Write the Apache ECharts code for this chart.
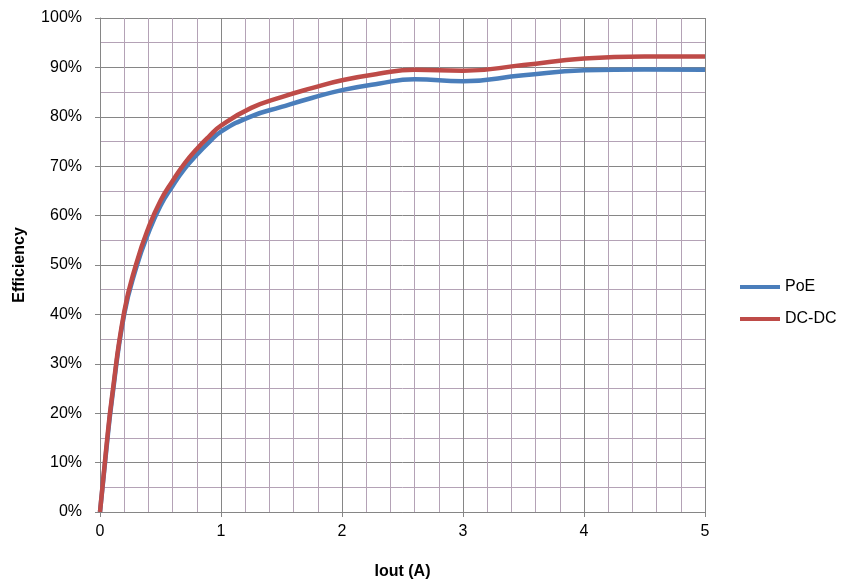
<!DOCTYPE html>
<html>
<head>
<meta charset="utf-8">
<script src="https://cdn.jsdelivr.net/npm/echarts@6/dist/echarts.min.js"></script>
<style>
  html, body { margin: 0; padding: 0; background: #fff; }
  #chart { width: 848px; height: 586px; }
</style>
</head>
<body>
<div id="chart"></div>
<script>
// Iout (A) sample points
var iout = [0, 0.05, 0.1, 0.2, 0.3, 0.4, 0.5, 0.6, 0.7, 0.8, 0.9, 1.0, 1.25, 1.5, 1.75, 2.0, 2.3, 2.6, 3.0, 3.5, 4.0, 4.5, 5.0]
// efficiency in %
var poe = [0, 12, 23, 40, 49.5, 56.5, 62, 66, 69.5, 72.3, 74.8, 77, 80.1, 82.0, 83.8, 85.4, 86.7, 87.6, 87.2, 88.4, 89.4, 89.6, 89.5]
var dcdc = [0, 12.5, 23.5, 40.5, 50.3, 57.5, 63, 67, 70.6, 73.5, 76, 78.2, 81.8, 84.0, 85.8, 87.4, 88.7, 89.5, 89.3, 90.5, 91.8, 92.2, 92.2]
var seriesNames = ['PoE', 'DC-DC']
var seriesColors = ['#4a7ebb', '#be4b48']

var myChart = echarts.init(document.getElementById('chart'))

function pairs (ys) {
  return iout.map(function (x, i) { return [x, ys[i]] })
}

var majorColor = '#868686'
var minorColor = '#b4a2b6'
var font = 'Liberation Sans'

var option = {
  animation: false,
  textStyle: { fontFamily: font },
  grid: { left: 100, right: 143, top: 18, bottom: 74 },
  legend: {
    orient: 'vertical',
    left: 735,
    top: 274,
    itemWidth: 40,
    itemHeight: 4,
    itemGap: 16,
    icon: 'rect',
    textStyle: { fontSize: 16, color: '#000', fontFamily: font },
    data: seriesNames
  },
  xAxis: {
    type: 'value',
    min: 0,
    max: 5,
    interval: 1,
    name: 'Iout (A)',
    nameLocation: 'middle',
    nameGap: 52,
    nameTextStyle: { fontSize: 16, fontWeight: 'bold', color: '#000' },
    axisLine: { show: true, lineStyle: { color: majorColor, width: 1 } },
    axisTick: { show: true, length: 5, lineStyle: { color: majorColor } },
    axisLabel: { fontSize: 16, color: '#000', margin: 12 },
    splitLine: { show: true, lineStyle: { color: majorColor, width: 1 } },
    minorTick: { show: false, splitNumber: 5 },
    minorSplitLine: { show: true, lineStyle: { color: minorColor, width: 1 } }
  },
  yAxis: {
    type: 'value',
    min: 0,
    max: 100,
    interval: 10,
    name: 'Efficiency',
    nameLocation: 'middle',
    nameGap: 72,
    nameRotate: 90,
    nameTextStyle: { fontSize: 16, fontWeight: 'bold', color: '#000' },
    axisLine: { show: true, lineStyle: { color: majorColor, width: 1 } },
    axisTick: { show: true, length: 5, lineStyle: { color: majorColor } },
    axisLabel: { fontSize: 16, color: '#000', margin: 18, formatter: '{value}%' },
    splitLine: { show: true, lineStyle: { color: majorColor, width: 1 } },
    minorTick: { show: false, splitNumber: 2 },
    minorSplitLine: { show: true, lineStyle: { color: minorColor, width: 1 } }
  },
  series: [
    {
      name: seriesNames[0],
      type: 'line',
      smooth: 0.5,
      showSymbol: false,
      symbol: 'none',
      lineStyle: { color: seriesColors[0], width: 4.5 },
      itemStyle: { color: seriesColors[0] },
      data: pairs(poe)
    },
    {
      name: seriesNames[1],
      type: 'line',
      smooth: 0.5,
      showSymbol: false,
      symbol: 'none',
      lineStyle: { color: seriesColors[1], width: 4.5 },
      itemStyle: { color: seriesColors[1] },
      data: pairs(dcdc)
    }
  ]
}
myChart.setOption(option)
</script>
</body>
</html>
